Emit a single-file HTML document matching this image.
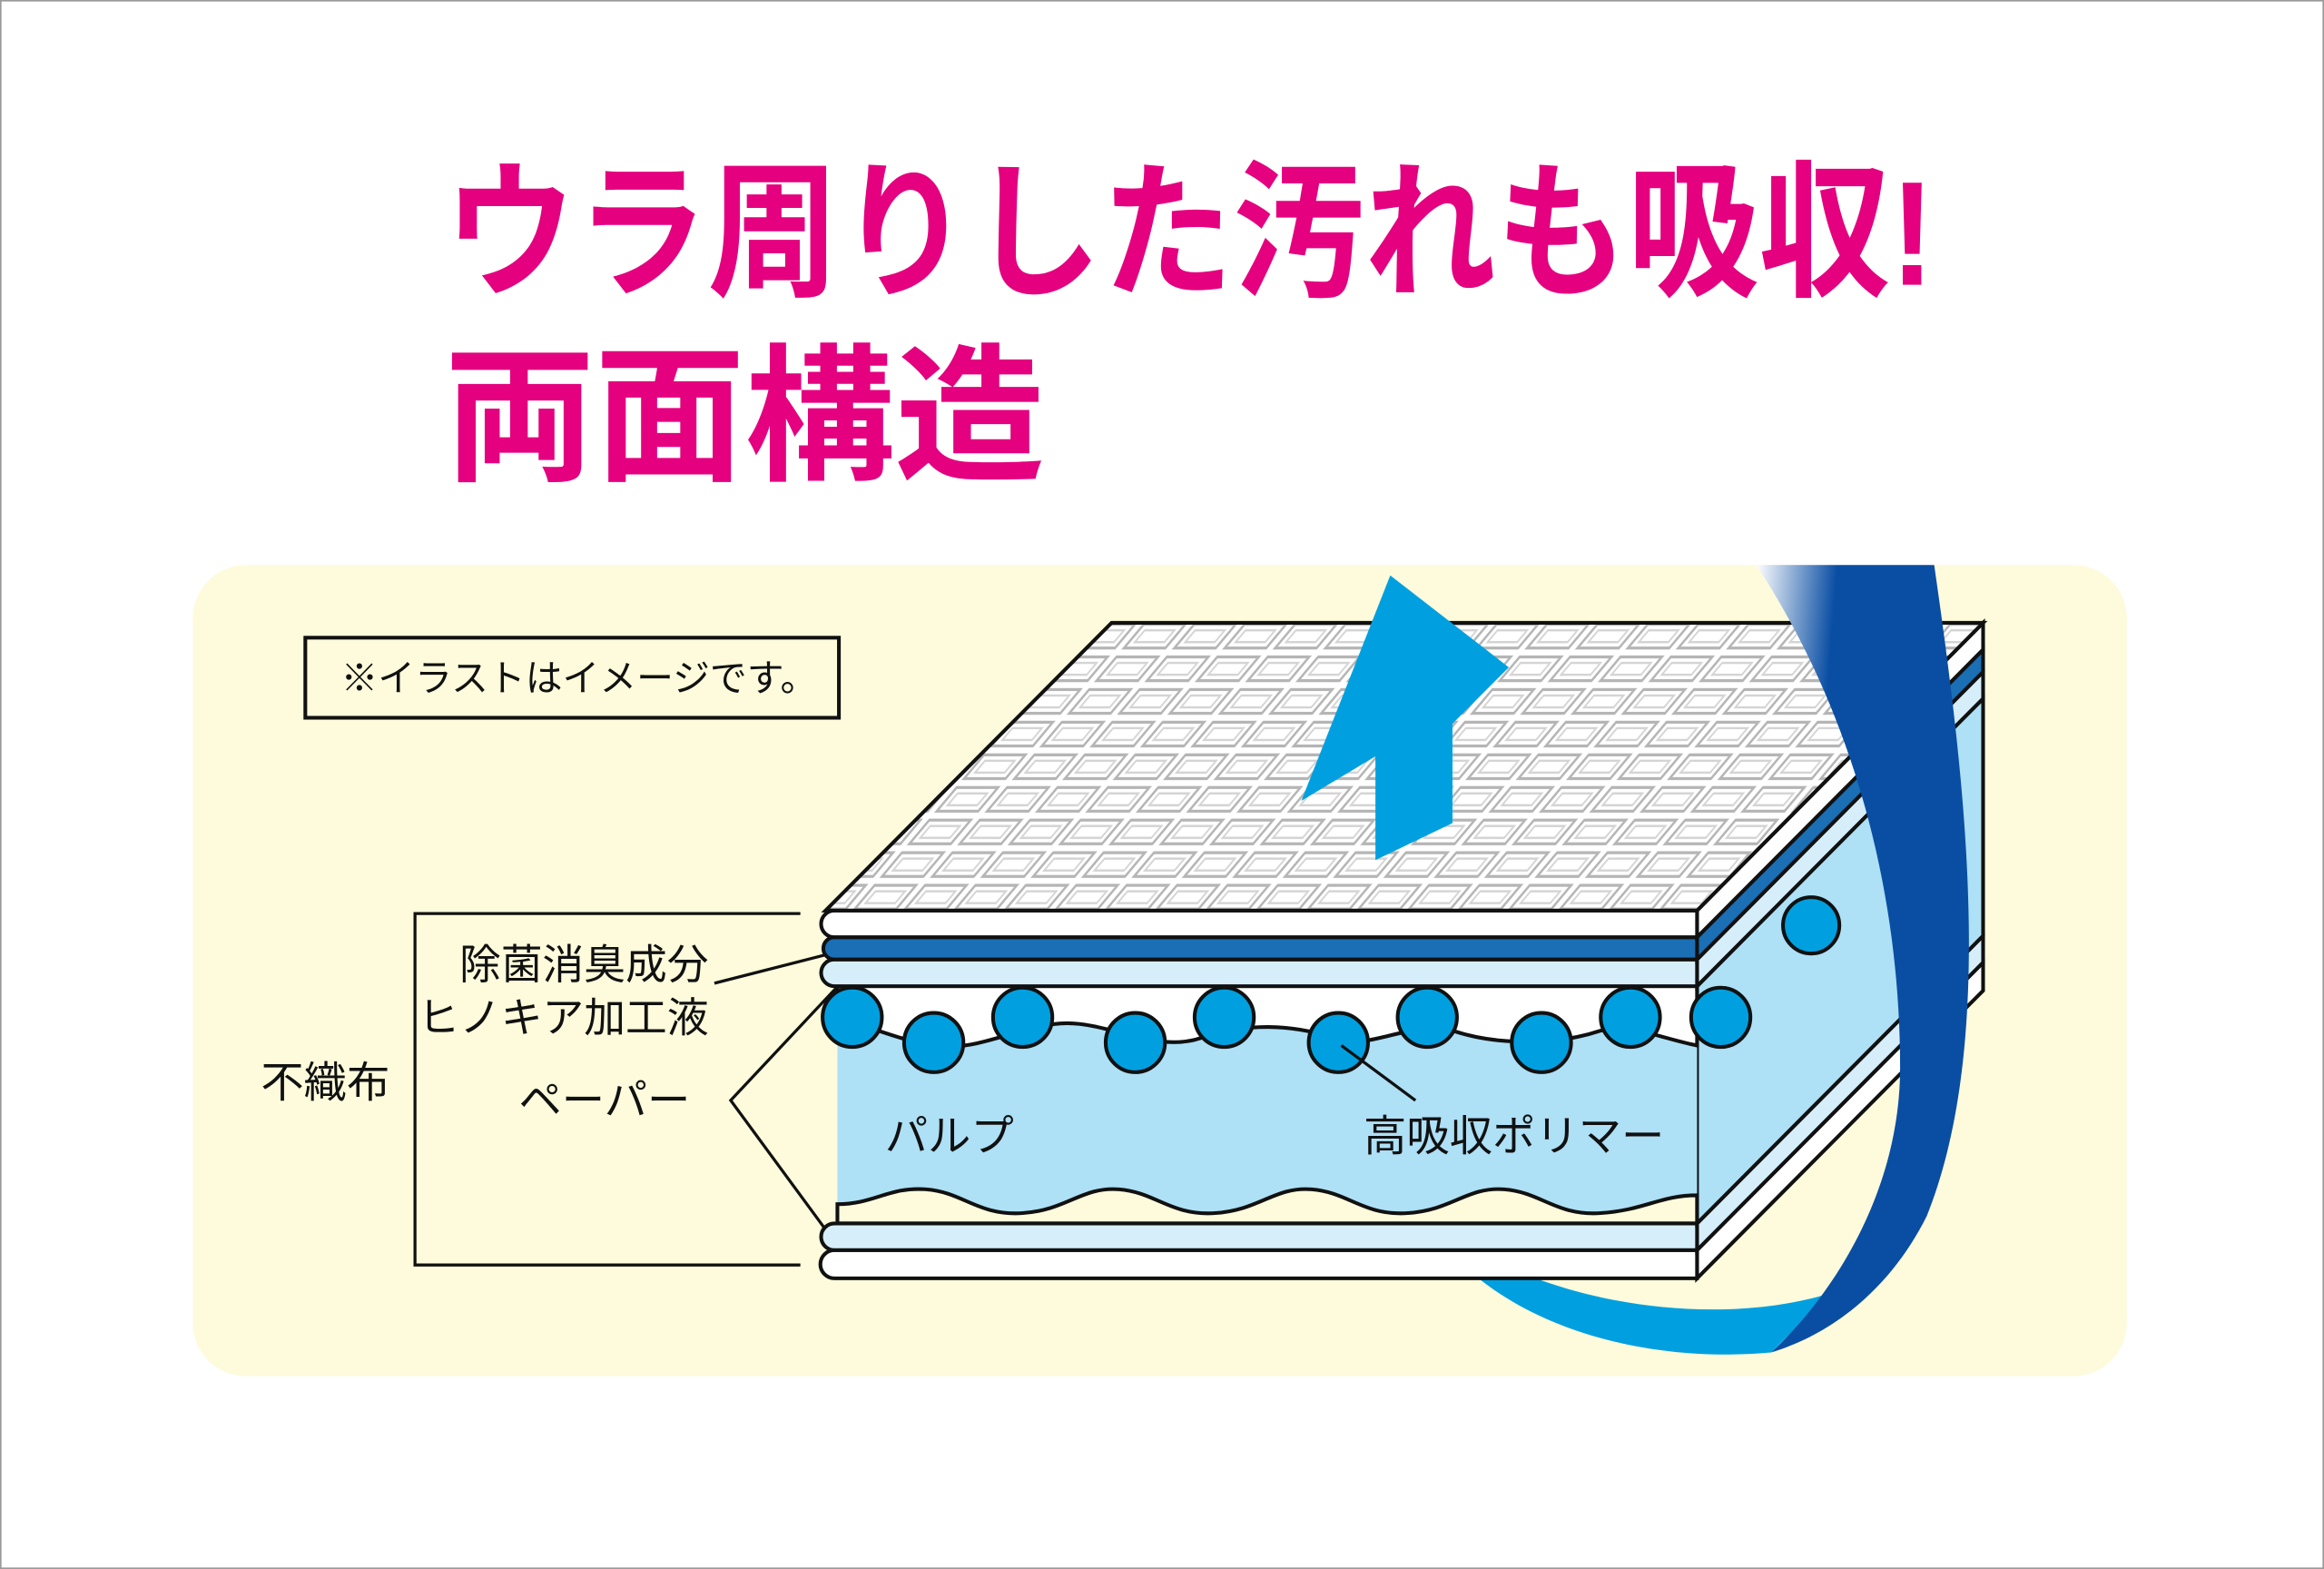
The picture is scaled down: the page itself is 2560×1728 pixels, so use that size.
<!DOCTYPE html>
<html><head><meta charset="utf-8"><style>
html,body{margin:0;padding:0;background:#fff;}
svg{display:block;}
text{font-family:"Liberation Sans","Noto Sans CJK JP",sans-serif;}
</style></head><body>
<svg width="2560" height="1728" viewBox="0 0 1568 1058" preserveAspectRatio="none" xmlns="http://www.w3.org/2000/svg">
<defs>
<pattern id="lat" width="34" height="22" patternUnits="userSpaceOnUse" patternTransform="skewX(-40)">
<rect width="34" height="22" fill="#fff"/>
<rect x="3" y="3" width="28" height="16" fill="none" stroke="#b5b5b5" stroke-width="2"/>
<rect x="7" y="7" width="20" height="8" fill="none" stroke="#d4d4d4" stroke-width="1.5"/>
</pattern>
<linearGradient id="rib" x1="0" y1="0" x2="1" y2="0.3">
<stop offset="0" stop-color="#ffffff"/>
<stop offset="0.35" stop-color="#0a4ea3"/>
<stop offset="1" stop-color="#0a4ea3"/>
</linearGradient>
</defs>
<rect x="0.5" y="0.5" width="1567" height="1057" fill="#fff" stroke="#999"/>
<text x="300" y="192" font-size="100" font-weight="bold" fill="#e4007f" textLength="1005" lengthAdjust="spacingAndGlyphs">ウラ周りした汚れも吸収!</text>
<text x="300" y="316" font-size="100" font-weight="bold" fill="#e4007f" textLength="405" lengthAdjust="spacingAndGlyphs">両面構造</text>
<rect x="130" y="381" width="1305" height="547" rx="36" fill="#fdfbdc"/>
<rect x="206" y="430" width="360" height="54" fill="none" stroke="#111" stroke-width="2.5"/>
<text x="230" y="466" font-size="25" fill="#111">※イラストはイメージです。</text>
<polyline points="540,616 280,616 280,853 540,853" fill="none" stroke="#111" stroke-width="2"/>
<text x="478" y="660" font-size="28" fill="#111" text-anchor="end">除菌消臭成分</text>
<text x="478" y="696" font-size="28" fill="#111" text-anchor="end">ヒノキア加工液</text>
<text x="176" y="740" font-size="29" fill="#111">不織布</text>
<text x="350" y="752" font-size="29" fill="#111">ペーパー</text>
<line x1="482" y1="663" x2="572" y2="640" stroke="#111" stroke-width="2"/>
<polyline points="570,660 493,742 565,840" fill="none" stroke="#111" stroke-width="2"/>
<path d="M995,860 C1050,905 1130,918 1195,912 L1235,872 C1160,895 1060,880 1000,845Z" fill="#00a0e0"/>
<path d="M1145,843 L1338,649 L1338,668 L1145,862Z" fill="#fff" stroke="#111" stroke-width="2.5"/>
<path d="M563,843 H1145 V862 H563 A9.5,9.5 0 0 1 563,843Z" fill="#fff" stroke="#111" stroke-width="2.5"/>
<path d="M1145,825 L1338,631 L1338,649 L1145,843Z" fill="#d6eefa" stroke="#111" stroke-width="2.5"/>
<path d="M563,825 H1145 V843 H563 A9,9 0 0 1 563,825Z" fill="#d6eefa" stroke="#111" stroke-width="2.5"/>
<path d="M1145,665 L1338,471 L1338,631 L1145,825Z" fill="#aee0f6" stroke="#111" stroke-width="2.5"/>
<rect x="565" y="665" width="580" height="160" fill="#aee0f6"/>
<path d="M565,665 H1145 V705 C1120,700 1100,690 1080,695 C1050,705 1010,705 980,695 C950,688 920,710 900,700 C870,690 840,690 810,700 C780,710 750,690 720,690 C690,690 660,710 630,705 C600,700 585,690 565,688Z" fill="#fff" stroke="#111" stroke-width="2.5"/>
<path d="M565,812 C590,812 600,800 625,802 C650,804 660,820 690,818 C720,816 730,800 755,802 C780,804 790,820 820,818 C850,816 860,800 885,802 C910,804 920,820 950,818 C980,816 990,800 1015,802 C1040,804 1050,820 1080,818 C1110,816 1120,806 1145,806 V825 H565Z" fill="#fdfbdc" stroke="#111" stroke-width="2.5"/>
<line x1="565" y1="825" x2="1145" y2="825" stroke="#111" stroke-width="2.5"/>
<g fill="#00a0e0" stroke="#111" stroke-width="2.5">
<circle cx="1222" cy="624" r="19"/>
<circle cx="575" cy="686" r="20"/><circle cx="690" cy="686" r="20"/><circle cx="826" cy="686" r="20"/>
<circle cx="963" cy="686" r="20"/><circle cx="1100" cy="686" r="20"/><circle cx="1161" cy="686" r="20"/>
<circle cx="630" cy="703" r="20"/><circle cx="766" cy="703" r="20"/><circle cx="903" cy="703" r="20"/><circle cx="1040" cy="703" r="20"/>
</g>
<line x1="905" y1="705" x2="955" y2="742" stroke="#111" stroke-width="2"/>
<text x="597" y="776" font-size="29" fill="#111">パルプ</text>
<text x="920" y="776" font-size="29" fill="#111">高吸収ポリマー</text>
<path d="M1145,647 L1338,453 L1338,471 L1145,665Z" fill="#d6eefa" stroke="#111" stroke-width="2.5"/>
<path d="M563,647 H1145 V665 H563 A9,9 0 0 1 563,647Z" fill="#d6eefa" stroke="#111" stroke-width="2.5"/>
<path d="M1145,632 L1338,438 L1338,453 L1145,647Z" fill="#1a6fb5" stroke="#111" stroke-width="2.5"/>
<path d="M563,632 H1145 V647 H563 A7.5,7.5 0 0 1 563,632Z" fill="#1a6fb5" stroke="#111" stroke-width="2.5"/>
<path d="M1145,614 L1338,420 L1338,438 L1145,632Z" fill="#fff" stroke="#111" stroke-width="2.5"/>
<path d="M563,614 H1145 V632 H563 A9,9 0 0 1 563,614Z" fill="#fff" stroke="#111" stroke-width="2.5"/>
<polygon points="750,420 1338,420 1145,614 557,614" fill="url(#lat)" stroke="#111" stroke-width="2.5"/>
<polygon points="938,388 1018,450 980,488 980,555 928,580 928,510 878,540" fill="#00a0e0"/>
<path d="M1185,381 L1305,381 C1325,520 1348,700 1300,820 C1275,870 1235,900 1195,912 C1240,870 1282,800 1282,720 C1282,600 1250,480 1185,381Z" fill="url(#rib)"/>
</svg>
</body></html>
